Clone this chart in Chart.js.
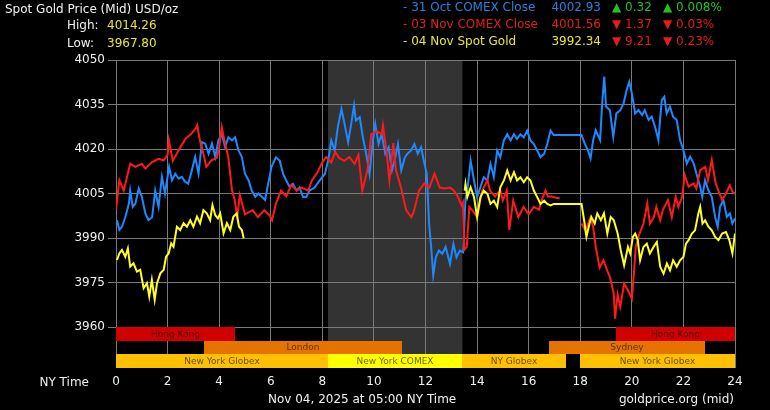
<!DOCTYPE html>
<html>
<head>
<meta charset="utf-8">
<script src="https://cdn.jsdelivr.net/npm/chart.js@4.4.1/dist/chart.umd.min.js"></script>
<style>
  html, body { margin: 0; padding: 0; background: #000; }
  #wrap { position: relative; width: 770px; height: 410px; overflow: hidden; background: #000; }
  #wrap canvas { position: absolute; left: 0; top: 0; }
  .t { position: absolute; font-family: "DejaVu Sans", Verdana, sans-serif; font-size: 12px; line-height: 14px; height: 14px; white-space: nowrap; color: #f0f0f0; }
  .r { text-align: right; }
  .blue { color: #2a80e0; }
  .red { color: #e02020; }
  .yel { color: #e6e638; }
  .up { color: #22c422; }
  .dn { color: #e81a1a; }
</style>
</head>
<body>
<div id="wrap">
  <canvas id="c" width="770" height="410"></canvas>

  <div class="t" style="left:5px;top:2px">Spot Gold Price (Mid) USD/oz</div>
  <div class="t" style="left:67px;top:18px">High:</div>
  <div class="t yel" style="left:107px;top:18px">4014.26</div>
  <div class="t" style="left:67px;top:36px">Low:</div>
  <div class="t yel" style="left:107px;top:36px">3967.80</div>

  <div class="t blue" style="left:403px;top:0px">- 31 Oct COMEX Close</div>
  <div class="t blue r" style="left:500px;width:101px;top:0px">4002.93</div>
  <div class="t up" style="left:612px;top:0px">▲ 0.32</div>
  <div class="t up" style="left:663px;top:0px">▲ 0.008%</div>

  <div class="t red" style="left:403px;top:17px">- 03 Nov COMEX Close</div>
  <div class="t red r" style="left:500px;width:101px;top:17px">4001.56</div>
  <div class="t dn" style="left:612px;top:17px">▼ 1.37</div>
  <div class="t dn" style="left:663px;top:17px">▼ 0.03%</div>

  <div class="t yel" style="left:403px;top:34px">- 04 Nov Spot Gold</div>
  <div class="t yel r" style="left:500px;width:101px;top:34px">3992.34</div>
  <div class="t dn" style="left:612px;top:34px">▼ 9.21</div>
  <div class="t dn" style="left:663px;top:34px">▼ 0.23%</div>

  <div class="t r" style="left:0px;width:89px;top:375px">NY Time</div>
  <div class="t" style="left:268px;top:392px">Nov 04, 2025 at 05:00 NY Time</div>
  <div class="t r" style="left:560px;width:174px;top:392px">goldprice.org (mid)</div>
</div>

<script>
// escala de tiempo: horas NY 0..24
const xTicks = [0, 2, 4, 6, 8, 10, 12, 14, 16, 18, 20, 22, 24];
const yTicks = [3960, 3975, 3990, 4005, 4020, 4035, 4050];

// 31 Oct COMEX Close (azul)
const octHours = [0.04, 0.13, 0.23, 0.36, 0.5, 0.55, 0.65, 0.75, 0.88, 1.0, 1.14, 1.26, 1.4, 1.52, 1.65, 1.78, 1.9, 2.06, 2.17, 2.3, 2.43, 2.55, 2.68, 2.8, 2.94, 3.07, 3.2, 3.33, 3.46, 3.59, 3.72, 3.85, 3.97, 4.1, 4.23, 4.36, 4.5, 4.62, 4.75, 4.88, 5.0, 5.14, 5.26, 5.4, 5.52, 5.65, 5.78, 5.9, 6.03, 6.2, 6.35, 6.48, 6.6, 6.74, 6.86, 7.0, 7.12, 7.25, 7.38, 7.5, 7.7, 7.9, 8.1, 8.22, 8.35, 8.48, 8.6, 8.74, 8.86, 9.0, 9.12, 9.23, 9.3, 9.45, 9.57, 9.7, 9.83, 9.96, 10.05, 10.18, 10.3, 10.44, 10.57, 10.7, 10.83, 10.93, 11.06, 11.2, 11.3, 11.44, 11.57, 11.7, 11.83, 11.96, 12.05, 12.14, 12.23, 12.3, 12.4, 12.52, 12.65, 12.78, 12.95, 13.08, 13.2, 13.33, 13.46, 13.55, 13.62, 13.75, 13.88, 14.0, 14.13, 14.26, 14.4, 14.52, 14.65, 14.78, 14.9, 15.04, 15.17, 15.3, 15.43, 15.55, 15.68, 15.81, 15.94, 16.07, 16.2, 16.33, 16.46, 16.6, 16.72, 16.85, 16.97, 18.05, 18.17, 18.3, 18.4, 18.5, 18.6, 18.77, 18.85, 18.93, 19.0, 19.15, 19.28, 19.4, 19.55, 19.68, 19.8, 19.9, 20.0, 20.13, 20.26, 20.4, 20.5, 20.65, 20.77, 20.9, 21.03, 21.16, 21.26, 21.35, 21.48, 21.6, 21.74, 21.87, 22.0, 22.13, 22.26, 22.4, 22.5, 22.65, 22.73, 22.84, 22.97, 23.1, 23.23, 23.33, 23.42, 23.55, 23.68, 23.8, 23.9, 24.0];
const octPrices = [3996, 3992.7, 3993.8, 3997, 4001.6, 4006, 4000.5, 4001.6, 4006.7, 4003.9, 3998.3, 3996, 3997, 4006, 4000.5, 4010.6, 4005, 4014, 4009.5, 4011.7, 4010, 4010.6, 4009, 4008.3, 4012.8, 4017.3, 4011.7, 4022.3, 4021.8, 4018.4, 4021.8, 4017.3, 4022.9, 4025, 4020.7, 4024, 4022.9, 4024, 4019.5, 4017.3, 4011.7, 4009.5, 4006, 4003.9, 4005, 4003.9, 4002.8, 4008.3, 4014, 4017.2, 4016, 4011.6, 4009.4, 4007.1, 4008.2, 4006, 4007.1, 4003.8, 4003.8, 4006, 4007, 4009.4, 4011.6, 4016, 4022.9, 4019.5, 4027.4, 4033.5, 4028.5, 4022.3, 4028.5, 4034.7, 4029.6, 4030.7, 4024, 4018.4, 4011.6, 4022.9, 4028.5, 4021.7, 4025.1, 4018.4, 4020.6, 4012.8, 4017.2, 4021.7, 4012.8, 4017.2, 4018.4, 4019.5, 4021.7, 4018.4, 4020.6, 4015, 4011.6, 3994.8, 3985.8, 3977.4, 3983.5, 3985.8, 3984.7, 3987, 3981.3, 3988, 3983.5, 3985.8, 3985.2, 4003.1, 4006, 4016.1, 4009.4, 4003.8, 4007.1, 4010.5, 4009.4, 4015, 4010.5, 4019.5, 4017.2, 4022.9, 4025, 4022.9, 4025, 4023.4, 4025, 4023.9, 4026.2, 4022.9, 4021.7, 4019.5, 4017.2, 4018.4, 4021.7, 4026.2, 4024.7, 4024.7, 4021.9, 4019.6, 4016.8, 4023, 4026.4, 4023, 4035.4, 4044.4, 4034.3, 4033.1, 4024.1, 4032, 4033, 4035.4, 4039.9, 4042.7, 4038.8, 4032, 4033.1, 4031.4, 4033.1, 4029.8, 4030.9, 4027.5, 4023, 4036.5, 4037.6, 4032, 4034.3, 4030.9, 4029.8, 4023, 4019.6, 4015.1, 4017.4, 4015.1, 4011.8, 4007.3, 4003.9, 4009.5, 4006, 4003.9, 3997.1, 3993.8, 4000.5, 4002.8, 3997.1, 3998.3, 3994.9, 3996.6];

// 03 Nov COMEX Close (rojo)
const novHours = [0, 0.13, 0.3, 0.55, 0.75, 1.0, 1.14, 1.4, 1.65, 1.85, 2.0, 2.05, 2.2, 2.5, 2.7, 2.9, 3.1, 3.15, 3.25, 3.4, 3.5, 3.7, 3.9, 4.0, 4.1, 4.2, 4.35, 4.5, 4.6, 4.7, 4.8, 5.0, 5.3, 5.5, 5.75, 5.97, 6.05, 6.2, 6.4, 6.6, 6.8, 7.0, 7.2, 7.45, 7.6, 7.8, 8.0, 8.15, 8.35, 8.5, 8.65, 8.85, 9.05, 9.25, 9.4, 9.55, 9.75, 9.9, 10.1, 10.3, 10.35, 10.5, 10.6, 10.75, 10.85, 11.05, 11.25, 11.45, 11.55, 11.75, 11.95, 12.15, 12.35, 12.55, 12.75, 12.95, 13.1, 13.25, 13.4, 13.45, 13.5, 13.6, 13.7, 13.8, 14.0, 14.2, 14.4, 14.5, 14.7, 14.9, 15.0, 15.15, 15.25, 15.4, 15.6, 15.8, 16.0, 16.2, 16.4, 16.5, 16.65, 16.75, 16.9, 17.1, 17.2, 17.6, 18.05, 18.2, 18.4, 18.5, 18.6, 18.75, 18.9, 19.0, 19.15, 19.3, 19.35, 19.45, 19.55, 19.7, 19.85, 20.0, 20.08, 20.15, 20.3, 20.45, 20.6, 20.7, 20.85, 20.95, 21.1, 21.2, 21.4, 21.55, 21.7, 21.8, 21.95, 22.05, 22.2, 22.4, 22.5, 22.65, 22.85, 22.95, 23.1, 23.25, 23.35, 23.5, 23.65, 23.8, 23.9, 24.0];
const novPrices = [3999.5, 4009.5, 4006, 4015, 4014, 4015, 4013.4, 4015.6, 4016.7, 4016.2, 4018, 4023, 4016, 4020.7, 4023.5, 4025, 4027, 4028, 4023, 4018, 4014, 4016.2, 4017, 4020.5, 4027.4, 4023, 4017.5, 4006, 4003, 3997, 4004.5, 3998, 3999.4, 3997, 3999.4, 3997.5, 3996, 4001.6, 4006, 4004, 4008, 4006, 4007, 4006, 4009.5, 4012, 4015.5, 4017.3, 4015.5, 4019, 4017, 4016, 4017.3, 4015, 4018, 4006, 4013, 4025, 4026, 4025, 4028, 4018.4, 4009.5, 4022, 4013, 4007, 3999.4, 3997, 3999, 4006, 4008.3, 4007, 4011.7, 4007, 4006.7, 4007, 4006, 4004, 4001, 4002, 3986, 3987, 4000.5, 3999.5, 3997.2, 4006, 4009.5, 4006, 4004, 4006, 4002.7, 4006, 3992.7, 4002.7, 3997, 4000.5, 3998, 4000.5, 3999.5, 4002.7, 4006, 4004, 4004, 4003.5, 4003.5, null, 3994.9, 3992.6, 3997, 3993.8, 3987, 3980, 3982.5, 3980, 3976.9, 3971.3, 3962.8, 3971, 3966.8, 3974.6, 3972.4, 3969.6, 3978, 3987, 3991.5, 3994.9, 4001.6, 3994.9, 3997, 4000.5, 3996, 3999.4, 4002.8, 3997, 4003.9, 4000.5, 4003.9, 4011.2, 4007.3, 4008.4, 4006.7, 4012.9, 4014, 4009.5, 4016.3, 4008.4, 4006.1, 4002.8, 4005, 4007.8, 4005.6, 4005];

// 04 Nov Spot Gold (amarillo)
const spotHours = [0.04, 0.13, 0.23, 0.36, 0.46, 0.55, 0.68, 0.81, 0.94, 1.07, 1.2, 1.29, 1.39, 1.5, 1.59, 1.72, 1.85, 1.94, 2.04, 2.14, 2.23, 2.36, 2.49, 2.62, 2.75, 2.88, 3.0, 3.14, 3.26, 3.39, 3.52, 3.65, 3.74, 3.85, 3.95, 4.04, 4.17, 4.3, 4.43, 4.55, 4.68, 4.77, 4.88, 4.95, 9.0, 13.52, 13.55, 13.62, 13.75, 13.88, 14.0, 14.13, 14.26, 14.4, 14.52, 14.65, 14.78, 14.9, 15.04, 15.17, 15.3, 15.43, 15.55, 15.68, 15.81, 15.94, 16.07, 16.2, 16.33, 16.46, 16.6, 16.72, 16.85, 16.97, 18.05, 18.15, 18.24, 18.33, 18.43, 18.56, 18.66, 18.8, 18.92, 19.05, 19.18, 19.3, 19.45, 19.57, 19.7, 19.85, 19.94, 20.04, 20.13, 20.23, 20.32, 20.45, 20.58, 20.7, 20.84, 20.97, 21.1, 21.23, 21.36, 21.48, 21.6, 21.74, 21.87, 22.0, 22.1, 22.2, 22.33, 22.45, 22.58, 22.65, 22.74, 22.84, 22.97, 23.1, 23.23, 23.36, 23.5, 23.65, 23.78, 23.9, 24.0];
const spotPrices = [3982.6, 3984.8, 3986, 3983.7, 3986.5, 3980.4, 3981.5, 3978.7, 3979.3, 3973.1, 3974.8, 3970.3, 3975.9, 3969.2, 3974.8, 3978.1, 3979.3, 3983.7, 3984.8, 3988.2, 3987.1, 3993.8, 3992.7, 3995, 3993.8, 3996, 3993.8, 3997.2, 3995, 3999.4, 3998.3, 3996, 4001.1, 3997.7, 3996.6, 3998.3, 3991.6, 3995, 3992.7, 3997.2, 3998.3, 3993.8, 3992.7, 3989.9, null, 4006, 4008.2, 4003.8, 4007.1, 4003.8, 3997.1, 4003.8, 4006, 4004.9, 4001.5, 4002.6, 4000.4, 4007.1, 4009.4, 4012.8, 4009.4, 4012.2, 4009.4, 4010.5, 4008.8, 4010.5, 4009.4, 4006, 4003.8, 4001.5, 4002.6, 4001.5, 4001, 4001.5, 4001.5, 3996, 3990.4, 3993.8, 3997.1, 3994.9, 3998.3, 3996, 3998.3, 3991.5, 3997.1, 3996, 3991.5, 3985.9, 3980.8, 3987, 3984.8, 3990.4, 3991.5, 3989.3, 3982.5, 3987, 3988.1, 3984.8, 3987, 3988.7, 3980.3, 3978, 3981.4, 3979.1, 3982.5, 3980.3, 3982.5, 3983.6, 3988.1, 3989.3, 3991.5, 3992.6, 3998.3, 4000.5, 3994.9, 3996, 3993.8, 3992.6, 3990.4, 3989.3, 3991.5, 3992, 3989.3, 3984.8, 3991.5];

// sesiones de mercado (horas NY) y fila en la franja inferior
const sessionNames = ['Hong Kong', 'Hong Kong', 'London', 'Sydney', 'New York Globex', 'New York COMEX', 'NY Globex', 'New York Globex'];
const sessionStart = [0, 19.4, 3.4, 16.8, 0, 8.22, 13.43, 18];
const sessionEnd = [4.6, 24, 11.1, 22.85, 8.22, 13.43, 17.45, 24];
const sessionRow = [0, 0, 1, 1, 2, 2, 2, 2];
// zona sombreada (horario COMEX)
const comexOpen = 8.22;
const comexClose = 13.43;

const sessionColors = ['#d00000', '#d00000', '#e67300', '#e67300', '#ffc000', '#ffff00', '#ffc000', '#ffc000'];
const rowValues = [3960, 3955.4, 3950.9, 3946.2]; // limites de filas en unidades del eje y

const toPoints = (hs, vs) => hs.map((h, i) => ({ x: h, y: vs[i] }));

const bgPlugin = {
  id: 'bg',
  beforeDraw(chart) {
    const { ctx, chartArea: a, scales: { x } } = chart;
    ctx.save();
    ctx.fillStyle = '#000';
    ctx.fillRect(0, 0, chart.width, chart.height);
    const x0 = x.getPixelForValue(comexOpen), x1 = x.getPixelForValue(comexClose);
    ctx.fillStyle = '#333333';
    ctx.fillRect(x0, a.top, x1 - x0, a.bottom - a.top);
    ctx.restore();
  },
  beforeDatasetsDraw(chart) {
    const { ctx, scales: { x, y } } = chart;
    ctx.save();
    ctx.font = '9px "DejaVu Sans", sans-serif';
    ctx.textAlign = 'center';
    ctx.textBaseline = 'middle';
    sessionNames.forEach((name, i) => {
      const r = sessionRow[i];
      const x0 = Math.round(x.getPixelForValue(sessionStart[i]));
      const x1 = Math.round(x.getPixelForValue(sessionEnd[i]));
      const y0 = Math.round(y.getPixelForValue(rowValues[r]));
      const y1 = Math.round(y.getPixelForValue(rowValues[r + 1]));
      ctx.fillStyle = sessionColors[i];
      ctx.fillRect(x0, y0, x1 - x0, y1 - y0);
      ctx.fillStyle = 'rgba(0,0,0,0.62)';
      ctx.fillText(name, (x0 + x1) / 2, (y0 + y1) / 2 + 0.5);
    });
    ctx.restore();
  }
};

new Chart(document.getElementById('c'), {
  type: 'line',
  data: {
    datasets: [
      { label: '04 Nov Spot Gold', data: toPoints(spotHours, spotPrices), borderColor: '#ffff22', order: 1 },
      { label: '03 Nov COMEX Close', data: toPoints(novHours, novPrices), borderColor: '#ff1a1a', order: 2 },
      { label: '31 Oct COMEX Close', data: toPoints(octHours, octPrices), borderColor: '#1e88ff', order: 3 },
    ].map((d) => Object.assign(d, { borderWidth: 2, pointRadius: 0, tension: 0, spanGaps: false, fill: false })),
  },
  options: {
    responsive: false,
    devicePixelRatio: 1,
    animation: false,
    layout: { padding: { top: 60, right: 35, left: 0, bottom: 0 } },
    plugins: { legend: { display: false }, tooltip: { enabled: false } },
    scales: {
      x: {
        type: 'linear',
        min: 0,
        max: 24,
        afterBuildTicks: (s) => { s.ticks = xTicks.map((v) => ({ value: v })); },
        afterFit: (s) => { s.height = 42; },
        ticks: { color: '#f0f0f0', font: { family: 'DejaVu Sans', size: 12 }, padding: 7, maxRotation: 0, callback: (v) => String(v) },
        grid: { color: '#7a7a7a', drawTicks: false },
        border: { display: false },
      },
      y: {
        min: 3946.2,
        max: 4050,
        afterBuildTicks: (s) => { s.ticks = yTicks.map((v) => ({ value: v })); },
        afterFit: (s) => { s.width = 116; },
        ticks: { color: '#f0f0f0', font: { family: 'DejaVu Sans', size: 12 }, padding: 3, callback: (v) => String(v) },
        grid: { color: '#7a7a7a', tickLength: 8 },
        border: { display: false },
      },
    },
  },
  plugins: [bgPlugin],
});
</script>
</body>
</html>
